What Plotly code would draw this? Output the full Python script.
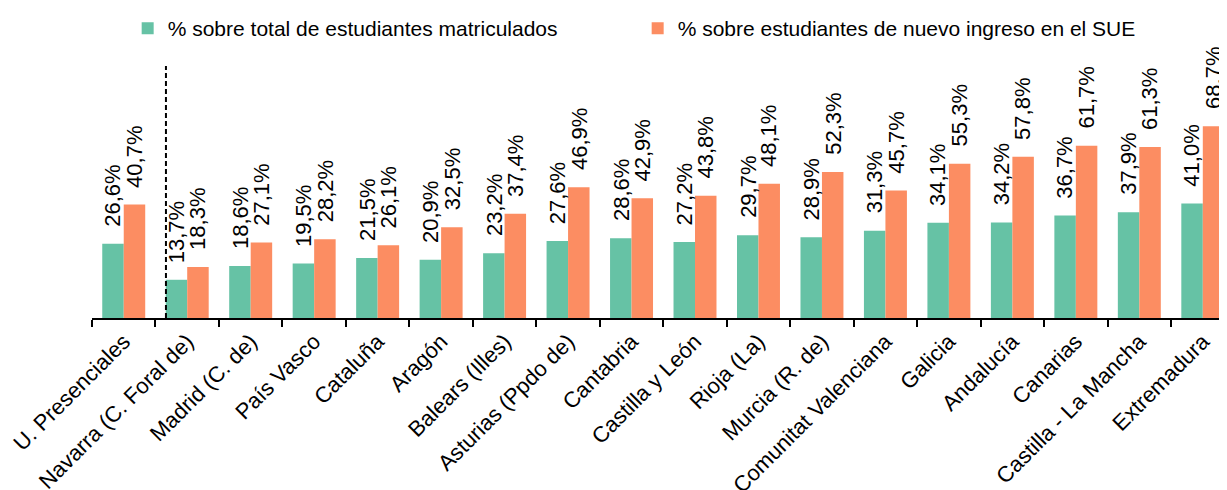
import plotly.graph_objects as go

# Data
regions = [
    "U. Presenciales", "Navarra (C. Foral de)", "Madrid (C. de)", "País Vasco",
    "Cataluña", "Aragón", "Balears (Illes)", "Asturias (Ppdo de)", "Cantabria",
    "Castilla y León", "Rioja (La)", "Murcia (R. de)", "Comunitat Valenciana",
    "Galicia", "Andalucía", "Canarias", "Castilla - La Mancha", "Extremadura",
]
pct_total = [26.6, 13.7, 18.6, 19.5, 21.5, 20.9, 23.2, 27.6, 28.6,
             27.2, 29.7, 28.9, 31.3, 34.1, 34.2, 36.7, 37.9, 41.0]
pct_nuevo = [40.7, 18.3, 27.1, 28.2, 26.1, 32.5, 37.4, 46.9, 42.9,
             43.8, 48.1, 52.3, 45.7, 55.3, 57.8, 61.7, 61.3, 68.7]

series_names = [
    "% sobre total de estudiantes matriculados",
    "% sobre estudiantes de nuevo ingreso en el SUE",
]
colors = ["#66c2a5", "#fc8d62"]

FONT = "Liberation Sans, Arial, sans-serif"

# the page body adds 8px around the figure, so geometry is set 8px up/left
W, H = 1227, 490
left_m, top_m = 83, 52
base_y = 315                  # pixel row of the x axis
plot_w = W - left_m
plot_h = base_y - top_m
px_per_pct = 2.855
cat_w = 63.53
bargap = 0.323
bar_w = cat_w * (1 - bargap) / 2

fig = go.Figure()
for name, vals, color in zip(series_names, [pct_total, pct_nuevo], colors):
    fig.add_trace(go.Bar(
        x=regions,
        y=vals,
        name=name,
        marker=dict(color=color, line=dict(width=0)),
    ))

# rotated value labels, lifted a bit above each bar like the original
annotations = []
for k, vals in enumerate([pct_total, pct_nuevo]):
    shift = (k - 0.5) * bar_w
    for reg, v in zip(regions, vals):
        annotations.append(dict(
            x=reg, y=v, xref="x", yref="y",
            text=f"{v:.1f}%".replace(".", ","),
            showarrow=False,
            textangle=-90,
            xanchor="center", yanchor="bottom",
            xshift=shift, yshift=15,
            font=dict(size=22, color="black", family=FONT),
        ))

fig.update_layout(
    width=W,
    height=H,
    margin=dict(l=left_m, r=0, t=top_m, b=H - base_y),
    barmode="group",
    bargap=bargap,
    bargroupgap=0,
    plot_bgcolor="white",
    paper_bgcolor="white",
    font=dict(family=FONT, size=21, color="black"),
    showlegend=True,
    legend=dict(
        orientation="h",
        x=(118.7 - left_m) / plot_w, xanchor="left",
        y=(base_y - 18.7) / plot_h, yanchor="middle",
        font=dict(size=21),
        entrywidth=465,
        entrywidthmode="pixels",
        itemsizing="constant",
        traceorder="normal",
    ),
    xaxis=dict(
        range=[-0.5, plot_w / cat_w - 0.5],
        showline=True,
        linecolor="black",
        linewidth=2,
        ticks="outside",
        tickson="boundaries",
        ticklen=7,
        tickwidth=2,
        tickcolor="black",
        tickangle=-45,
        tickfont=dict(size=22),
        showgrid=False,
    ),
    yaxis=dict(
        range=[0, plot_h / px_per_pct],
        visible=False,
        showgrid=False,
    ),
    annotations=annotations,
    shapes=[
        # dashed separator between the total and the regions
        dict(type="line", xref="x", yref="paper",
             x0=0.665, x1=0.665, y0=0, y1=(base_y - 57) / plot_h,
             line=dict(color="black", width=2, dash="5px,3px")),
    ],
)

fig.write_html("out.html")
